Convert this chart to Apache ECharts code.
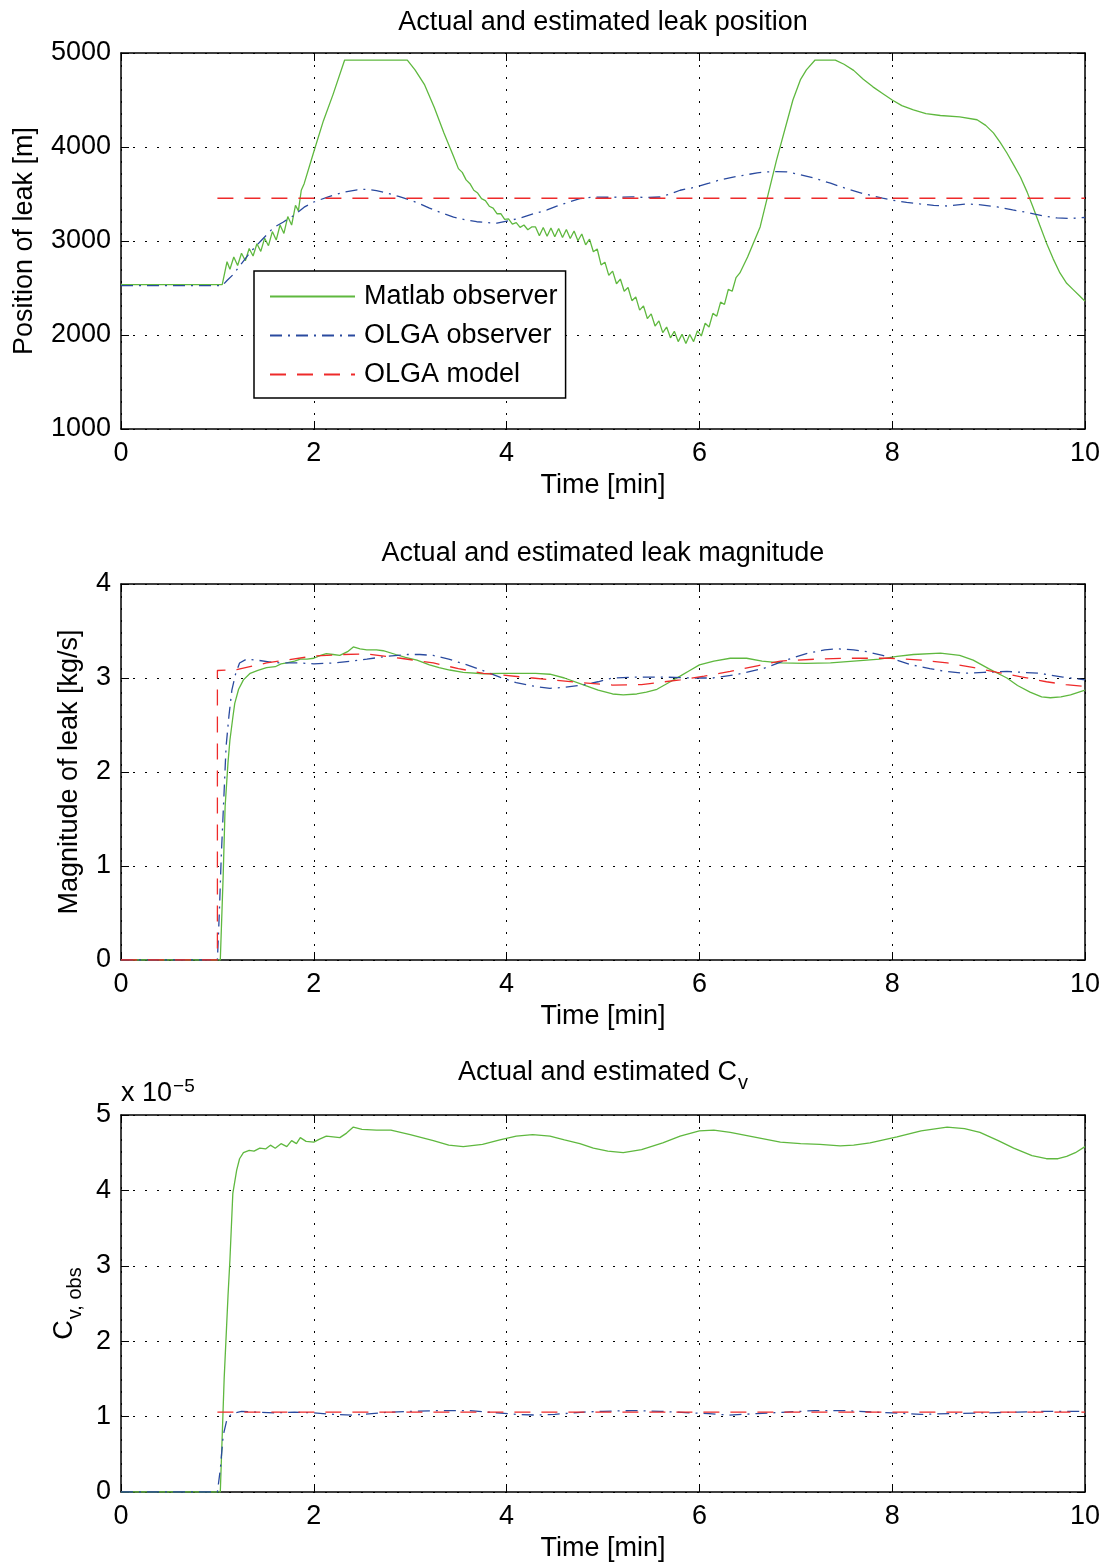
<!DOCTYPE html>
<html><head><meta charset="utf-8">
<script src="https://cdn.jsdelivr.net/npm/echarts/dist/echarts.min.js"></script>
<style>html,body{margin:0;padding:0;background:#fff}#c{width:1105px;height:1567px}</style>
</head><body><div id="c"></div>
<script>
// ---------- data ----------
const timeTicks = [0, 2, 4, 6, 8, 10];
const seriesNames = ['Matlab observer', 'OLGA observer', 'OLGA model'];
const titles = ['Actual and estimated leak position', 'Actual and estimated leak magnitude', 'Actual and estimated C'];

// Plot 1: position of leak [m]
const matlabPos = [[0,2535],[1.05,2535],[1.10,2780],[1.13,2700],[1.17,2830],[1.21,2740],[1.25,2870],[1.29,2790],[1.33,2920],[1.37,2840],[1.41,2970],[1.45,2890],[1.49,3030],[1.53,2950],[1.57,3100],[1.61,3010],[1.65,3170],[1.69,3080],[1.73,3260],[1.77,3170],[1.81,3380],[1.84,3320],[1.87,3540],[1.90,3610],[2.0,3950],[2.1,4280],[2.2,4560],[2.32,4925],[2.97,4925],[3.05,4820],[3.15,4660],[3.25,4420],[3.35,4150],[3.45,3900],[3.50,3770],[3.54,3730],[3.58,3650],[3.62,3610],[3.66,3540],[3.70,3510],[3.74,3450],[3.78,3430],[3.82,3370],[3.86,3350],[3.90,3290],[3.94,3290],[3.98,3230],[4.02,3235],[4.06,3180],[4.10,3195],[4.14,3145],[4.18,3170],[4.22,3120],[4.26,3150],[4.30,3150],[4.34,3055],[4.38,3143],[4.42,3051],[4.46,3139],[4.50,3045],[4.54,3132],[4.58,3038],[4.62,3123],[4.66,3027],[4.70,3107],[4.74,3003],[4.78,3075],[4.82,2960],[4.86,3020],[4.90,2885],[4.94,2915],[4.98,2745],[5.02,2775],[5.06,2635],[5.10,2680],[5.14,2545],[5.18,2595],[5.22,2465],[5.26,2505],[5.30,2365],[5.34,2405],[5.38,2265],[5.42,2310],[5.46,2175],[5.50,2225],[5.54,2095],[5.58,2150],[5.62,2025],[5.66,2085],[5.70,1970],[5.74,2040],[5.78,1930],[5.82,2007],[5.86,1910],[5.90,2005],[5.94,1930],[5.98,2045],[6.02,1990],[6.06,2125],[6.10,2085],[6.14,2230],[6.18,2200],[6.22,2350],[6.26,2325],[6.30,2485],[6.34,2465],[6.38,2610],[6.42,2660],[6.50,2830],[6.63,3150],[6.80,3860],[6.97,4500],[7.05,4720],[7.11,4820],[7.20,4925],[7.41,4925],[7.50,4880],[7.60,4815],[7.70,4720],[7.80,4640],[7.90,4570],[8.0,4500],[8.1,4440],[8.22,4394],[8.35,4355],[8.5,4335],[8.7,4320],[8.88,4290],[8.97,4230],[9.05,4150],[9.12,4050],[9.19,3936],[9.26,3810],[9.33,3681],[9.40,3520],[9.46,3362],[9.53,3170],[9.60,2980],[9.67,2810],[9.74,2660],[9.81,2550],[9.88,2480],[9.94,2420],[10,2360]];
const olgaObsPos = [[0,2525],[1.05,2525],[1.1,2580],[1.16,2640],[1.25,2760],[1.34,2880],[1.45,3000],[1.58,3140],[1.68,3200],[1.79,3270],[1.9,3360],[2.0,3415],[2.15,3470],[2.31,3520],[2.45,3545],[2.55,3550],[2.65,3535],[2.76,3510],[2.88,3475],[3.0,3435],[3.1,3395],[3.2,3350],[3.32,3300],[3.45,3255],[3.57,3225],[3.69,3205],[3.8,3195],[3.9,3190],[4.02,3215],[4.14,3245],[4.28,3290],[4.42,3330],[4.52,3370],[4.62,3405],[4.76,3450],[4.9,3468],[5.1,3465],[5.3,3470],[5.45,3462],[5.59,3468],[5.7,3500],[5.8,3540],[5.97,3575],[6.1,3615],[6.21,3650],[6.35,3680],[6.49,3705],[6.6,3725],[6.7,3735],[6.8,3738],[6.91,3735],[7.03,3710],[7.15,3680],[7.25,3650],[7.36,3615],[7.46,3580],[7.56,3545],[7.68,3510],[7.8,3480],[7.9,3455],[8.0,3435],[8.15,3410],[8.29,3394],[8.43,3380],[8.57,3372],[8.68,3385],[8.78,3394],[8.92,3385],[9.09,3362],[9.25,3330],[9.43,3298],[9.57,3265],[9.71,3245],[9.85,3240],[10,3250]];
const olgaModelPos = [[1.0,3455],[10,3455]];

// Plot 2: magnitude of leak [kg/s]
const matlabMag = [[0,0],[1.03,0],[1.06,0.9],[1.08,1.63],[1.11,2.1],[1.13,2.34],[1.16,2.58],[1.18,2.73],[1.22,2.88],[1.27,2.98],[1.34,3.05],[1.42,3.08],[1.51,3.11],[1.6,3.12],[1.66,3.15],[1.72,3.16],[1.8,3.18],[1.86,3.2],[1.93,3.2],[2.0,3.21],[2.07,3.24],[2.13,3.26],[2.2,3.25],[2.27,3.24],[2.35,3.28],[2.41,3.33],[2.48,3.31],[2.55,3.3],[2.65,3.3],[2.72,3.29],[2.85,3.25],[2.95,3.22],[3.07,3.19],[3.2,3.14],[3.3,3.11],[3.41,3.085],[3.55,3.06],[3.76,3.045],[3.95,3.05],[4.1,3.05],[4.3,3.05],[4.45,3.04],[4.6,3.0],[4.79,2.93],[4.95,2.87],[5.1,2.83],[5.21,2.82],[5.35,2.83],[5.45,2.85],[5.56,2.88],[5.68,2.95],[5.8,3.02],[5.9,3.08],[6.0,3.14],[6.15,3.18],[6.32,3.21],[6.49,3.21],[6.65,3.18],[6.84,3.16],[7.1,3.155],[7.36,3.16],[7.6,3.18],[7.87,3.2],[8.05,3.23],[8.22,3.25],[8.5,3.265],[8.7,3.24],[8.84,3.19],[9.0,3.1],[9.19,3.0],[9.3,2.92],[9.43,2.85],[9.55,2.8],[9.64,2.79],[9.75,2.8],[9.85,2.82],[10,2.87]];
const olgaObsMag = [[0,0],[1.0,0],[1.02,0.5],[1.04,1.1],[1.07,1.8],[1.09,2.27],[1.12,2.6],[1.15,2.87],[1.19,3.05],[1.23,3.16],[1.3,3.2],[1.41,3.19],[1.55,3.17],[1.65,3.16],[1.86,3.16],[2.0,3.15],[2.2,3.16],[2.4,3.18],[2.55,3.2],[2.75,3.23],[2.97,3.25],[3.1,3.25],[3.24,3.24],[3.4,3.2],[3.59,3.14],[3.75,3.08],[3.93,3.01],[4.1,2.95],[4.3,2.91],[4.45,2.89],[4.6,2.9],[4.79,2.925],[4.95,2.96],[5.1,3.0],[5.35,3.01],[5.62,3.01],[5.9,3.0],[6.14,3.0],[6.4,3.04],[6.66,3.1],[6.9,3.19],[7.11,3.26],[7.3,3.3],[7.43,3.31],[7.6,3.3],[7.74,3.28],[7.9,3.24],[8.05,3.19],[8.2,3.14],[8.39,3.1],[8.55,3.07],[8.74,3.05],[8.95,3.06],[9.19,3.07],[9.35,3.06],[9.53,3.05],[9.77,3.01],[10,2.98]];
const olgaModelMag = [[0,0],[1.0,0],[1.0,3.08],[1.2,3.09],[1.51,3.16],[2.0,3.234],[2.3,3.25],[2.55,3.255],[2.9,3.21],[3.24,3.16],[3.5,3.1],[3.76,3.05],[4.27,3.0],[4.79,2.95],[5.1,2.925],[5.4,2.93],[5.8,2.98],[6.05,3.02],[6.32,3.07],[6.6,3.13],[6.84,3.18],[7.2,3.2],[7.53,3.21],[7.98,3.21],[8.3,3.19],[8.57,3.16],[8.85,3.11],[9.09,3.06],[9.35,3.01],[9.6,2.96],[9.8,2.93],[10,2.91]];

// Plot 3: C_v (units of 1e-5)
const matlabCv = [[0,0],[1.03,0],[1.07,1.5],[1.11,2.6],[1.13,3.08],[1.16,3.96],[1.2,4.27],[1.23,4.42],[1.27,4.5],[1.33,4.53],[1.38,4.52],[1.44,4.56],[1.5,4.55],[1.55,4.6],[1.6,4.56],[1.66,4.62],[1.72,4.58],[1.77,4.66],[1.82,4.62],[1.86,4.7],[1.92,4.65],[2.0,4.64],[2.06,4.68],[2.13,4.72],[2.2,4.71],[2.27,4.7],[2.34,4.76],[2.41,4.84],[2.5,4.81],[2.65,4.8],[2.8,4.8],[3.0,4.74],[3.24,4.66],[3.4,4.6],[3.55,4.58],[3.75,4.61],[3.93,4.67],[4.1,4.72],[4.27,4.74],[4.45,4.72],[4.6,4.67],[4.76,4.62],[4.9,4.56],[5.05,4.52],[5.21,4.5],[5.4,4.54],[5.62,4.63],[5.8,4.72],[6.0,4.79],[6.15,4.8],[6.32,4.77],[6.6,4.7],[6.84,4.64],[7.05,4.62],[7.25,4.61],[7.46,4.59],[7.6,4.6],[7.77,4.63],[8.05,4.71],[8.3,4.79],[8.57,4.84],[8.75,4.82],[8.91,4.77],[9.1,4.66],[9.26,4.56],[9.45,4.46],[9.6,4.42],[9.72,4.42],[9.81,4.45],[9.9,4.5],[10,4.58]];
const olgaObsCv = [[0,0],[1.0,0],[1.03,0.3],[1.06,0.75],[1.1,0.97],[1.15,1.04],[1.25,1.07],[1.4,1.06],[1.6,1.05],[1.8,1.06],[2.0,1.05],[2.2,1.03],[2.4,1.02],[2.6,1.04],[2.8,1.06],[3.0,1.07],[3.3,1.08],[3.6,1.08],[3.9,1.05],[4.1,1.03],[4.3,1.02],[4.5,1.03],[4.8,1.06],[5.0,1.07],[5.3,1.08],[5.6,1.07],[5.9,1.05],[6.1,1.04],[6.3,1.02],[6.6,1.04],[6.9,1.06],[7.2,1.08],[7.5,1.08],[7.8,1.06],[8.0,1.05],[8.3,1.03],[8.6,1.04],[9.0,1.05],[9.3,1.06],[9.6,1.07],[10,1.07]];
const olgaModelCv = [[1.0,1.06],[10,1.06]];

// ---------- styling ----------
const F = '"Liberation Sans", Arial, Helvetica, sans-serif';
const FS = 27;
const COL = ['#5fb83f', '#2a4a9f', '#ee2a2a'];
const DASH = ['solid', [12, 6, 2, 6], [16, 11]];
const grids = [
  {left: 121, top: 53, width: 964, height: 376},
  {left: 121, top: 584, width: 964, height: 376},
  {left: 121, top: 1115, width: 964, height: 377}
];
const yRanges = [[1000, 5000, 1000], [0, 4, 1], [0, 5, 1]];
const yNames = ['Position of leak [m]', 'Magnitude of leak [kg/s]', '{m|C}{s|v, obs}'];
const yNameGaps = [83, 38, 42];
const subRich = {
  m: {fontSize: FS, fontFamily: F, color: '#000', fill: '#000', verticalAlign: 'top', lineHeight: 28},
  s: {fontSize: 20, fontFamily: F, color: '#000', fill: '#000', verticalAlign: 'top', lineHeight: 20, padding: [14, 0, 0, 1]}
};

const axLine = {show: true, onZero: false, lineStyle: {color: '#000', width: 1.5}};
const tick = {show: true, inside: true, length: 8, lineStyle: {color: '#000', width: 1}};
const xAxes = [], yAxes = [];
grids.forEach((g, i) => {
  xAxes.push({type: 'value', gridIndex: i, min: 0, max: 10, interval: 2, position: 'bottom',
    axisLine: axLine, axisTick: tick,
    axisLabel: {color: '#000', fontSize: FS, margin: 11, fontFamily: F, formatter: v => timeTicks.includes(v) ? String(v) : ''},
    splitLine: {show: true, lineStyle: {color: '#000', type: [2, 10], width: 1}},
    name: 'Time [min]', nameLocation: 'middle', nameGap: 43, nameMoveOverlap: false,
    nameTextStyle: {color: '#000', fontSize: FS, fontFamily: F}});
  xAxes.push({type: 'value', gridIndex: i, min: 0, max: 10, interval: 2, position: 'top',
    axisLine: axLine, axisTick: tick, axisLabel: {show: false}, splitLine: {show: false}});
  const r = yRanges[i];
  yAxes.push({type: 'value', gridIndex: i, min: r[0], max: r[1], interval: r[2], position: 'left',
    axisLine: axLine, axisTick: tick,
    axisLabel: {color: '#000', fontSize: FS, margin: 10, fontFamily: F, formatter: v => String(v)},
    splitLine: {show: true, lineStyle: {color: '#000', type: [2, 10], width: 1}},
    name: yNames[i], nameLocation: 'middle', nameGap: yNameGaps[i], nameRotate: 90, nameMoveOverlap: false,
    nameTextStyle: {color: '#000', fontSize: FS, fontFamily: F, rich: subRich}});
  yAxes.push({type: 'value', gridIndex: i, min: r[0], max: r[1], interval: r[2], position: 'right',
    axisLine: axLine, axisTick: tick, axisLabel: {show: false}, splitLine: {show: false}});
});

const dataSets = [
  [matlabPos, olgaObsPos, olgaModelPos],
  [matlabMag, olgaObsMag, olgaModelMag],
  [matlabCv, olgaObsCv, olgaModelCv]
];
const series = [];
dataSets.forEach((set, gi) => {
  set.forEach((d, k) => {
    series.push({type: 'line', name: seriesNames[k], xAxisIndex: gi * 2, yAxisIndex: gi * 2,
      data: d, showSymbol: false, symbol: 'none', animation: false, z: 2 + k,
      lineStyle: {color: COL[k], width: 1.3, type: DASH[k]}, itemStyle: {color: COL[k]}});
  });
});

const titleY = [23, 554, 1073];
const graphic = titles.map((t, i) => ({
  type: 'text', x: 603, y: titleY[i], z: 100,
  style: {text: i === 2 ? '{m|' + t + '}{s|v}' : t, align: 'center', verticalAlign: 'middle',
    font: FS + 'px ' + F, fill: '#000', rich: subRich}
}));
graphic.push({type: 'text', left: 121, top: 1077, z: 100,
  style: {text: '{m|x 10}{p|\u22125}', fill: '#000',
    rich: {m: {fontSize: FS, fontFamily: F, fill: '#000', verticalAlign: 'bottom', lineHeight: 30},
           p: {fontSize: 19, fontFamily: F, fill: '#000', verticalAlign: 'top', lineHeight: 19, padding: [0, 0, 0, 1]}}}});

const chart = echarts.init(document.getElementById('c'), null, {renderer: 'canvas'});
chart.setOption({
  animation: false,
  backgroundColor: '#fff',
  grid: grids.map(g => Object.assign({outerBoundsMode: 'none'}, g)),
  xAxis: xAxes, yAxis: yAxes, series: series, graphic: graphic,
  legend: {show: true, data: seriesNames, orient: 'vertical', left: 254, top: 271,
    itemWidth: 85, itemHeight: 26, itemGap: 12, padding: [12, 8, 10, 15],
    itemStyle: {opacity: 0},
    borderColor: '#000', borderWidth: 1.5, backgroundColor: '#fff',
    textStyle: {color: '#000', fontSize: FS, lineHeight: 26, fontFamily: F, padding: [0, 0, 0, 4]},
    inactiveColor: '#000', selectedMode: false, z: 50}
});
</script></body></html>
